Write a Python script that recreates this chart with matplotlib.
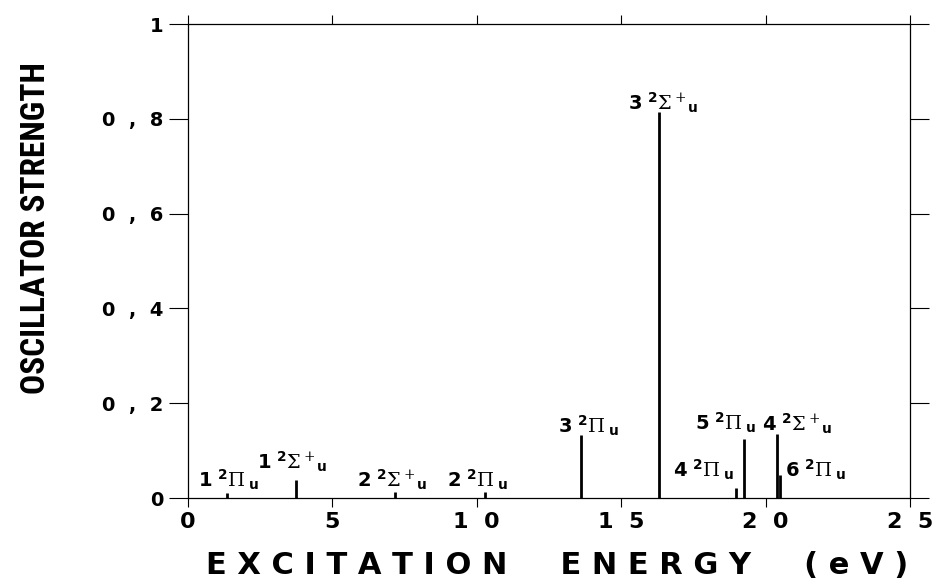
import matplotlib
matplotlib.use("Agg")
import matplotlib.pyplot as plt

# ---- data ----
energies = [1.35, 3.74, 7.17, 10.28, 13.61, 16.31, 18.97, 19.25, 20.39, 20.50]
strengths = [0.011, 0.038, 0.013, 0.012, 0.132, 0.814, 0.021, 0.124, 0.136, 0.048]
state_labels = [
    r'$\mathbf{1}\ {}^{\mathbf{2}}\Pi\,{}_{\mathbf{u}}$',
    r'$\mathbf{1}\ {}^{\mathbf{2}}\Sigma\,{}^{+}{}_{\mathbf{u}}$',
    r'$\mathbf{2}\ {}^{\mathbf{2}}\Sigma\,{}^{+}{}_{\mathbf{u}}$',
    r'$\mathbf{2}\ {}^{\mathbf{2}}\Pi\,{}_{\mathbf{u}}$',
    r'$\mathbf{3}\ {}^{\mathbf{2}}\Pi\,{}_{\mathbf{u}}$',
    r'$\mathbf{3}\ {}^{\mathbf{2}}\Sigma\,{}^{+}{}_{\mathbf{u}}$',
    r'$\mathbf{4}\ {}^{\mathbf{2}}\Pi\,{}_{\mathbf{u}}$',
    r'$\mathbf{5}\ {}^{\mathbf{2}}\Pi\,{}_{\mathbf{u}}$',
    r'$\mathbf{4}\ {}^{\mathbf{2}}\Sigma\,{}^{+}{}_{\mathbf{u}}$',
    r'$\mathbf{6}\ {}^{\mathbf{2}}\Pi\,{}_{\mathbf{u}}$',
]
xticks = [0, 5, 10, 15, 20, 25]
xtick_labels = ['0', '5', '1  0', '1  5', '2  0', '2  5']
yticks = [0, 0.2, 0.4, 0.6, 0.8, 1.0]
ytick_labels = ['0', '0  ,  2', '0  ,  4', '0  ,  6', '0  ,  8', '1']
xlabel = 'E X C I T A T I O N     E N E R G Y     ( e V )'
ylabel = 'OSCILLATOR STRENGTH'

# label placement (pixels relative to bar top)
label_dx = [-29, -39, -38, -38, -23, -31, -63, -49, -15, 5]
label_dy = [13, 18, 12, 12, 10, 9, 18, 16, 10, 5]

plt.rcParams['mathtext.fontset'] = 'custom'
plt.rcParams['mathtext.rm'] = 'DejaVu Serif'
plt.rcParams['mathtext.it'] = 'DejaVu Serif:italic'
plt.rcParams['mathtext.bf'] = 'DejaVu Sans:bold'

fig = plt.figure(figsize=(9.47, 5.81), dpi=100)
ax = fig.add_axes([188 / 947, 83 / 581, 722 / 947, 474 / 581])

ax.vlines(energies, 0, strengths, colors='black', linewidth=2.0)

for e, s, lab, dx, dy in zip(energies, strengths, state_labels, label_dx, label_dy):
    ax.annotate(lab, xy=(e, s), xytext=(dx, dy), textcoords='offset pixels',
                ha='left', va='center', fontsize=14, color='black')

ax.set_xlim(0, 25)
ax.set_ylim(0, 1)

ax.set_xticks(xticks)
ax.set_xticklabels(xtick_labels, fontsize=16, fontweight='bold', family='DejaVu Sans')
ax.set_yticks(yticks)
ax.set_yticklabels(ytick_labels, fontsize=14, fontweight='bold', family='DejaVu Sans')

ax.tick_params(axis='x', which='both', direction='out', top=True, bottom=True,
               length=6.5, width=0.8, pad=3.5)
ax.tick_params(axis='x', which='both', top=True, labeltop=False)
ax.tick_params(axis='y', which='both', direction='out', left=True, right=True,
               length=14, width=0.8, pad=4)
for sp in ax.spines.values():
    sp.set_linewidth(0.9)

fig.text(557 / 947, (581 - 565) / 581, xlabel, ha='center', va='center',
         fontsize=22, fontweight='bold', family='DejaVu Sans')
fig.text(36 / 947, (581 - 228) / 581, ylabel, ha='center', va='center',
         rotation=90, fontsize=24, fontweight='bold',
         family=['Roboto Condensed', 'DejaVu Sans'], fontstretch='condensed')

fig.savefig('out.png', dpi=100)
